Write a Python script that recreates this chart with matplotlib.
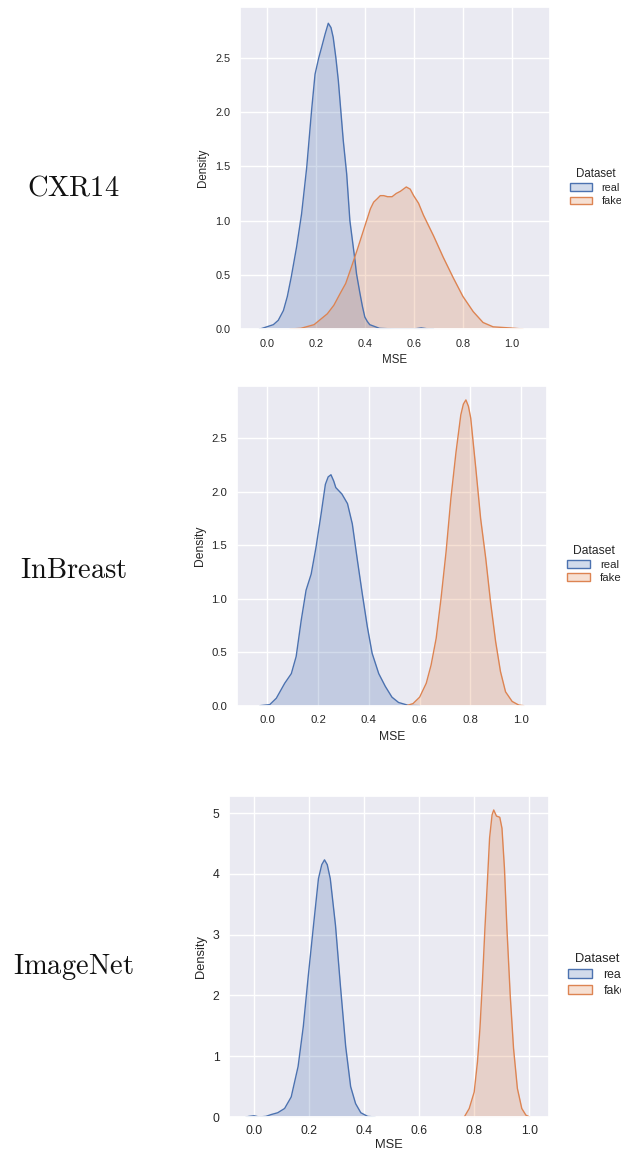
import matplotlib
matplotlib.use('Agg')
import matplotlib.pyplot as plt
import seaborn as sns
from matplotlib.patches import Patch

sns.set_theme(style='darkgrid')
plt.rcParams['font.family'] = ['Liberation Sans', 'DejaVu Sans']
plt.rcParams['mathtext.fontset'] = 'cm'

# density curves (MSE, density)
cxr_real_x = [-0.03, -0.02, 0.027, 0.047, 0.068, 0.084, 0.10, 0.122, 0.142, 0.163, 0.183, 0.197, 0.212, 0.224,
              0.238, 0.251, 0.262, 0.271, 0.282, 0.292, 0.312, 0.326, 0.339, 0.36, 0.366, 0.38, 0.39, 0.40,
              0.41, 0.42, 0.46, 0.52, 0.60, 0.63, 0.66, 0.68]
cxr_real_y = [0, 0.005, 0.04, 0.08, 0.17, 0.30, 0.48, 0.76, 1.06, 1.49, 2.02, 2.35, 2.50, 2.60,
              2.72, 2.82, 2.78, 2.69, 2.50, 2.29, 1.74, 1.43, 1.00, 0.63, 0.51, 0.33, 0.21, 0.11,
              0.07, 0.04, 0.006, 0.0, 0.0, 0.01, 0.0, 0.0]
cxr_fake_x = [0.095, 0.139, 0.193, 0.247, 0.274, 0.30, 0.322, 0.342, 0.369, 0.396, 0.423, 0.436, 0.45, 0.463,
              0.477, 0.493, 0.511, 0.528, 0.545, 0.569, 0.585, 0.599, 0.619, 0.639, 0.68, 0.72, 0.761, 0.80,
              0.842, 0.882, 0.923, 0.99, 1.045]
cxr_fake_y = [0, 0.006, 0.04, 0.14, 0.22, 0.33, 0.42, 0.55, 0.73, 0.92, 1.11, 1.17, 1.20, 1.23,
              1.23, 1.22, 1.22, 1.25, 1.27, 1.31, 1.29, 1.23, 1.16, 1.05, 0.86, 0.66, 0.47, 0.30,
              0.16, 0.06, 0.02, 0.01, 0]

inb_real_x = [-0.029, 0.01, 0.036, 0.069, 0.095, 0.114, 0.134, 0.153, 0.173, 0.192, 0.212, 0.229, 0.240, 0.251,
              0.262, 0.27, 0.294, 0.316, 0.335, 0.355, 0.374, 0.394, 0.413, 0.439, 0.465, 0.491, 0.517, 0.556, 0.60]
inb_real_y = [0, 0.01, 0.07, 0.21, 0.30, 0.46, 0.80, 1.08, 1.23, 1.48, 1.79, 2.07, 2.14, 2.16,
              2.10, 2.04, 1.98, 1.89, 1.70, 1.36, 1.05, 0.74, 0.49, 0.30, 0.18, 0.08, 0.03, 0.003, 0]
inb_fake_x = [0.548, 0.574, 0.60, 0.626, 0.645, 0.665, 0.684, 0.704, 0.723, 0.743, 0.762, 0.772, 0.782, 0.792,
              0.801, 0.821, 0.84, 0.86, 0.879, 0.899, 0.918, 0.938, 0.964, 0.99, 1.01]
inb_fake_y = [0, 0.02, 0.08, 0.21, 0.38, 0.63, 1.00, 1.44, 1.94, 2.37, 2.72, 2.82, 2.86, 2.80,
              2.69, 2.22, 1.75, 1.38, 0.97, 0.60, 0.32, 0.13, 0.04, 0.006, 0]

img_real_x = [-0.03, -0.018, 0.0, 0.018, 0.043, 0.062, 0.086, 0.111, 0.135, 0.16, 0.179, 0.197, 0.216, 0.234,
              0.246, 0.256, 0.266, 0.277, 0.296, 0.314, 0.333, 0.351, 0.369, 0.388, 0.413, 0.44]
img_real_y = [0, 0.01, 0.02, 0.0, 0.01, 0.04, 0.07, 0.14, 0.33, 0.83, 1.49, 2.32, 3.15, 3.92,
              4.15, 4.23, 4.15, 3.92, 3.15, 2.15, 1.16, 0.50, 0.22, 0.07, 0.01, 0]
img_fake_x = [0.764, 0.782, 0.80, 0.812, 0.821, 0.83, 0.839, 0.848, 0.856, 0.865, 0.871, 0.881, 0.893, 0.901,
              0.91, 0.919, 0.931, 0.943, 0.957, 0.973, 0.988, 1.002]
img_fake_y = [0, 0.14, 0.41, 0.91, 1.46, 2.23, 3.10, 3.87, 4.59, 4.97, 5.05, 4.95, 4.93, 4.75,
              4.09, 3.10, 2.0, 1.13, 0.47, 0.14, 0.03, 0]

row_names = ['CXR14', 'InBreast', 'ImageNet']
hue_labels = ['real', 'fake']
xticks = [0.0, 0.2, 0.4, 0.6, 0.8, 1.0]
yticks_list = [[0.0, 0.5, 1.0, 1.5, 2.0, 2.5], [0.0, 0.5, 1.0, 1.5, 2.0, 2.5], [0, 1, 2, 3, 4, 5]]
ytick_fmt = ['%.1f', '%.1f', '%d']

blue = '#4C72B0'
orange = '#DD8452'

W, H = 621, 1153
fig = plt.figure(figsize=(W / 100, H / 100), dpi=100)
fig.patch.set_facecolor('white')

# axes boxes in pixels: left, top, right, bottom
boxes = [(240, 7, 550, 329), (236.7, 386, 546.7, 705.7), (229.3, 796, 549.3, 1117)]
xlims = [(-0.109, 1.155), (-0.12, 1.10), (-0.09, 1.073)]
ylims = [(0, 2.97), (0, 2.99), (0, 5.28)]
fsizes = [7.8, 8.2, 8.8]
xlabel_pads = [4, 4, 1]
legend_pos = [(570, 170), (567, 547), (568, 958)]
label_y = [188, 571, 967]

curves = [(cxr_real_x, cxr_real_y, cxr_fake_x, cxr_fake_y),
          (inb_real_x, inb_real_y, inb_fake_x, inb_fake_y),
          (img_real_x, img_real_y, img_fake_x, img_fake_y)]

for i in range(3):
    l, t, r, b = boxes[i]
    ax = fig.add_axes([l / W, 1 - b / H, (r - l) / W, (b - t) / H])
    rx, ry, fx, fy = curves[i]
    ax.fill_between(rx, ry, color=blue, alpha=0.25, lw=0)
    ax.plot(rx, ry, color=blue, lw=1)
    ax.fill_between(fx, fy, color=orange, alpha=0.25, lw=0)
    ax.plot(fx, fy, color=orange, lw=1)
    ax.set_xlim(xlims[i])
    ax.set_ylim(ylims[i])
    ax.set_xticks(xticks)
    ax.set_xticklabels(['%.1f' % v for v in xticks])
    ax.set_yticks(yticks_list[i])
    ax.set_yticklabels([ytick_fmt[i] % v for v in yticks_list[i]])
    fs = fsizes[i]
    ax.tick_params(labelsize=fs, colors='#262626', length=0, pad=7)
    ax.tick_params(axis='x', pad=6 if i == 2 else 7)
    ax.grid(color='white', lw=1)
    ax.set_xlabel('MSE', fontsize=fs + 0.5, color='#262626', labelpad=xlabel_pads[i])
    ax.set_ylabel('Density', fontsize=fs + 0.5, color='#262626', labelpad=4)

    handles = [Patch(facecolor=(0.30, 0.45, 0.69, 0.25), edgecolor=blue, lw=1),
               Patch(facecolor=(0.87, 0.52, 0.32, 0.25), edgecolor=orange, lw=1)]
    lx, ly = legend_pos[i]
    fig.legend(handles, hue_labels, title='Dataset', loc='center left',
               bbox_to_anchor=(lx / W, 1 - (ly + 17) / H), frameon=False,
               fontsize=fs, title_fontsize=fs + 0.5, handlelength=2.0,
               handleheight=0.7, handletextpad=0.9, labelspacing=0.3,
               borderpad=0, borderaxespad=0)

    fig.text(73 / W, 1 - label_y[i] / H, r'$\mathrm{%s}$' % row_names[i], fontsize=20.5,
             ha='center', va='center', color='#111111')

fig.savefig('out.png', dpi=100)
